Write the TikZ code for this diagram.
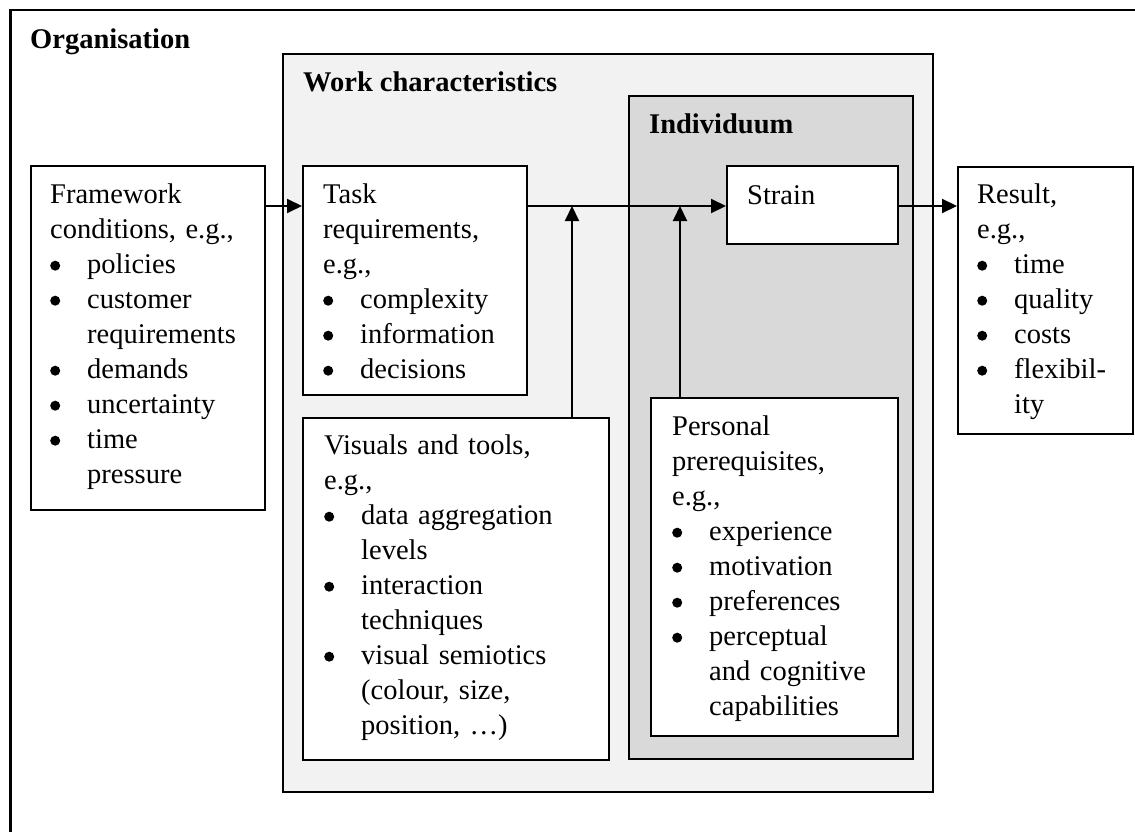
\documentclass[tikz,border=0pt]{standalone}
\usepackage{fontspec}
\setmainfont{Liberation Serif}
\usetikzlibrary{arrows.meta}

\definecolor{workfill}{HTML}{F2F2F2}
\definecolor{indfill}{HTML}{D9D9D9}

% first-line strut, so each text block's top sits a fixed distance above its first baseline
\newcommand{\fl}{\rule{0pt}{24pt}}
% round list bullet, centred a little above the baseline
\newcommand{\dotmark}{\tikz[baseline=0pt]\fill (7pt,7.5pt) circle[radius=5pt];}
% bullet entry with hanging indent
\newcommand{\bl}[1]{\par\hangindent=37pt\hangafter=1\noindent\makebox[37pt][l]{\dotmark}#1\par}

\tikzset{
  frame/.style={draw, line width=2pt, anchor=north west, inner sep=0pt},
  box/.style={frame, fill=white},
  txt/.style={anchor=north west, inner sep=0pt, align=left, text width=#1,
              font=\fontsize{28.5}{35}\selectfont},
  head/.style={anchor=north west, inner sep=0pt,
               font=\fontsize{28.5}{35}\selectfont\bfseries},
  arr/.style={line width=2pt, -{Triangle[length=15pt,width=14pt]}}
}

\begin{document}
\begin{tikzpicture}[x=1pt,y=-1pt]
\path[clip] (0,0) rectangle (1135,832);

% nested context frames
\node[frame, line width=2.5pt, minimum width=1140pt, minimum height=840pt] (org) at (9,9) {};
\node[head] (orgt) at (30,24) {\fl Organisation};

\node[frame, fill=workfill, minimum width=650pt, minimum height=738pt] (work) at (282,53) {};
\node[head] (workt) at (303,67) {\fl Work characteristics};

\node[frame, fill=indfill, minimum width=284pt, minimum height=663pt] (ind) at (628,95) {};
\node[head] (indt) at (649,109) {\fl Individuum};

% content boxes
\node[box, minimum width=234pt, minimum height=344pt] (fw) at (30,165) {};
\node[txt=230pt] (fwt) at (50,179) {\fl Framework\newline conditions, e.g.,%
  \bl{policies}\bl{customer\newline requirements}\bl{demands}\bl{uncertainty}\bl{time\newline pressure}};

\node[box, minimum width=224pt, minimum height=229pt] (task) at (302,165) {};
\node[txt=220pt] (taskt) at (323,179) {\fl Task\newline requirements,\newline e.g.,%
  \bl{complexity}\bl{information}\bl{decisions}};

\node[box, minimum width=171pt, minimum height=78pt] (strain) at (726,165) {};
\node[txt=150pt] (straint) at (747,180) {\fl Strain};

\node[box, minimum width=175pt, minimum height=267pt] (res) at (957,166) {};
\node[txt=170pt] (rest) at (977,179) {\fl Result,\newline e.g.,%
  \bl{time}\bl{quality}\bl{costs}\bl{flexibil-\newline ity}};

\node[box, minimum width=306pt, minimum height=342pt] (vis) at (302,417) {};
\node[txt=290pt] (vist) at (324,430) {\fl Visuals and tools,\newline e.g.,%
  \bl{data aggregation\newline levels}\bl{interaction\newline techniques}%
  \bl{visual semiotics\newline (colour, size,\newline position, …)}};

\node[box, minimum width=247pt, minimum height=338pt] (pers) at (650,397) {};
\node[txt=230pt] (perst) at (672,411) {\fl Personal\newline prerequisites,\newline e.g.,%
  \bl{experience}\bl{motivation}\bl{preferences}%
  \bl{perceptual\newline and cognitive\newline capabilities}};

% junctions on the main flow line
\coordinate (j1) at (572,206);
\coordinate (j2) at (680,206);

% flow
\draw[arr] (fw.east |- j1) -- (task.west |- j1);
\draw[arr] (task.east |- j1) -- (strain.west |- j1);
\draw[arr] (strain.east |- j1) -- (res.west |- j1);
\draw[arr] (vis.north -| j1) -- (j1);
\draw[arr] (pers.north -| j2) -- (j2);
\end{tikzpicture}
\end{document}
